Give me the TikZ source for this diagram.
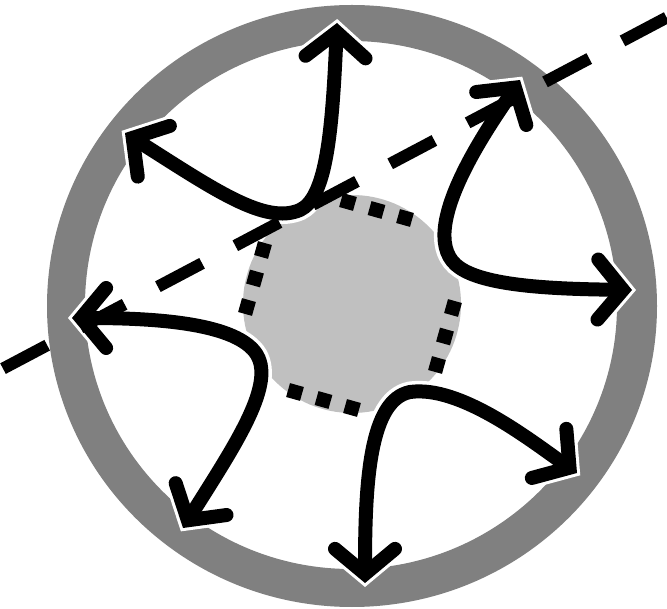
\documentclass[tikz,border=0pt]{standalone}
\usetikzlibrary{arrows.meta}
\definecolor{ringgray}{HTML}{808080}
\definecolor{blobgray}{HTML}{C0C0C0}
\begin{document}
\begin{tikzpicture}[x=1pt,y=-1pt,
  ringshape/.style={fill=ringgray, even odd rule},
  blobshape/.style={fill=blobgray},
  dotsq/.style={fill=black},
  flow/.style={draw=black, line width=14pt,
    {Straight Barb[length=25pt,width=60pt,line cap=round,line join=miter]}-{Straight Barb[length=25pt,width=60pt,line cap=round,line join=miter]},
    preaction={draw=white, line width=21pt, shorten <=-4pt, shorten >=-4pt}},
  axisline/.style={draw=black, line width=12pt, dash pattern=on 50pt off 37.6pt}
]
\useasboundingbox[fill=white] (0,0) rectangle (667,609);
% ring
\path[ringshape] (352,306) ellipse [x radius=305, y radius=301]
                 (351,305) ellipse [x radius=266, y radius=264];
% central blob
\coordinate (ctr) at (352,304);
\fill[blobshape] (ctr) circle [radius=109];
% dotted edges (square dots)
\foreach \px/\py in {348/202, 376.5/210, 405/218,
                     263/250, 255/278.5, 247/307,
                     453/308, 445/336.5, 437/365,
                     295/392, 323.5/400, 352/408}
  \fill[dotsq, shift={(\px,\py)}, rotate=-15.7] (-7.2,-7.2) rectangle (7.2,7.2);
% flow arrows
\coordinate (A1) at (125,133); \coordinate (A0) at (300,210); \coordinate (A2) at (337,23);
\coordinate (B1) at (520,80);  \coordinate (B0) at (460,268); \coordinate (B2) at (632,290);
\coordinate (C1) at (72,318);  \coordinate (C0) at (255,352); \coordinate (C2) at (183,528);
\coordinate (D1) at (365,583); \coordinate (D0) at (410,392); \coordinate (D2) at (577,473);
\draw[flow] (A1) .. controls (215,190) and (265,225) .. (A0) .. controls (325,198) and (332,140) .. (A2);
\draw[flow] (B1) .. controls (495,118) and (410,235) .. (B0) .. controls (488,287) and (560,289) .. (B2);
\draw[flow] (C1) .. controls (150,318) and (232,322) .. (C0) .. controls (278,382) and (235,445) .. (C2);
\draw[flow] (D1) .. controls (365,480) and (370,400) .. (D0) .. controls (460,385) and (530,440) .. (D2);
% dashed axis
\coordinate (L1) at (3,368.6);
\coordinate (L2) at (667,17.4);
\draw[axisline] (L1) -- (L2);
\end{tikzpicture}
\end{document}
